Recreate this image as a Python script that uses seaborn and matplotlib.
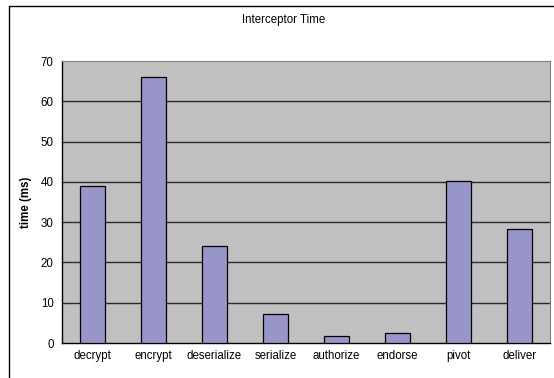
import matplotlib
matplotlib.use("Agg")
import matplotlib.pyplot as plt
import seaborn as sns
import pandas as pd
from matplotlib.ticker import FixedLocator

# Interceptor timings (ms)
stages = ["decrypt", "encrypt", "deserialize", "serialize", "authorize", "endorse", "pivot", "deliver"]
times = [39, 66, 24, 7.3, 1.8, 2.5, 40.3, 28.4]
y_ticks = [0, 10, 20, 30, 40, 50, 60, 70]

sns.set_style("white")
plt.rcParams["font.family"] = ["Liberation Sans", "DejaVu Sans"]
plt.rcParams["text.color"] = "black"
plt.rcParams["axes.labelcolor"] = "black"
plt.rcParams["xtick.color"] = "black"
plt.rcParams["ytick.color"] = "black"

df = pd.DataFrame({"stage": stages, "time": times})

fig = plt.figure(figsize=(5.54, 3.78), dpi=100)
ax = fig.add_axes([62 / 554, 35 / 378, 488 / 554, 282 / 378])
ax.set_facecolor("#c0c0c0")

sns.barplot(data=df, x="stage", y="time", color="#9896c8", saturation=1,
            edgecolor="black", linewidth=0.9, width=0.42, ax=ax, zorder=3)

ax.set_ylim(0, 70)
ax.set_xlim(-0.5, len(stages) - 0.5)
ax.set_yticks(y_ticks)
for v in y_ticks[1:-1]:
    ax.axhline(v, color="#2a2a2a", linewidth=1.0, zorder=1)

ax.xaxis.set_minor_locator(FixedLocator([i - 0.5 for i in range(len(stages) + 1)]))
ax.tick_params(axis="x", which="major", length=0, labelsize=8.3, pad=5)
ax.tick_params(axis="x", which="minor", length=4, width=0.8, color="black", direction="out")
ax.tick_params(axis="y", length=4, width=0.8, color="black", direction="out", labelsize=8.3, pad=2)

ax.set_xlabel("")
ax.set_ylabel("time (ms)", fontsize=8.3, fontweight="bold", labelpad=6)

for side in ["left", "bottom"]:
    ax.spines[side].set_color("black")
    ax.spines[side].set_linewidth(1.0)
for side in ["top", "right"]:
    ax.spines[side].set_color("#808080")
    ax.spines[side].set_linewidth(0.8)
    ax.spines[side].set_visible(True)

fig.text(284 / 554, 1 - 20 / 378, "Interceptor Time", ha="center", va="center", fontsize=8.3)

# outer chart frame (cut off at the right and bottom)
fig.add_artist(plt.Line2D([8.5 / 554, 8.5 / 554], [0, 1 - 5.5 / 378], color="black", linewidth=1.0,
                          transform=fig.transFigure))
fig.add_artist(plt.Line2D([8.5 / 554, 1], [1 - 5.5 / 378, 1 - 5.5 / 378], color="black", linewidth=1.0,
                          transform=fig.transFigure))

fig.savefig("out.png", dpi=100)
